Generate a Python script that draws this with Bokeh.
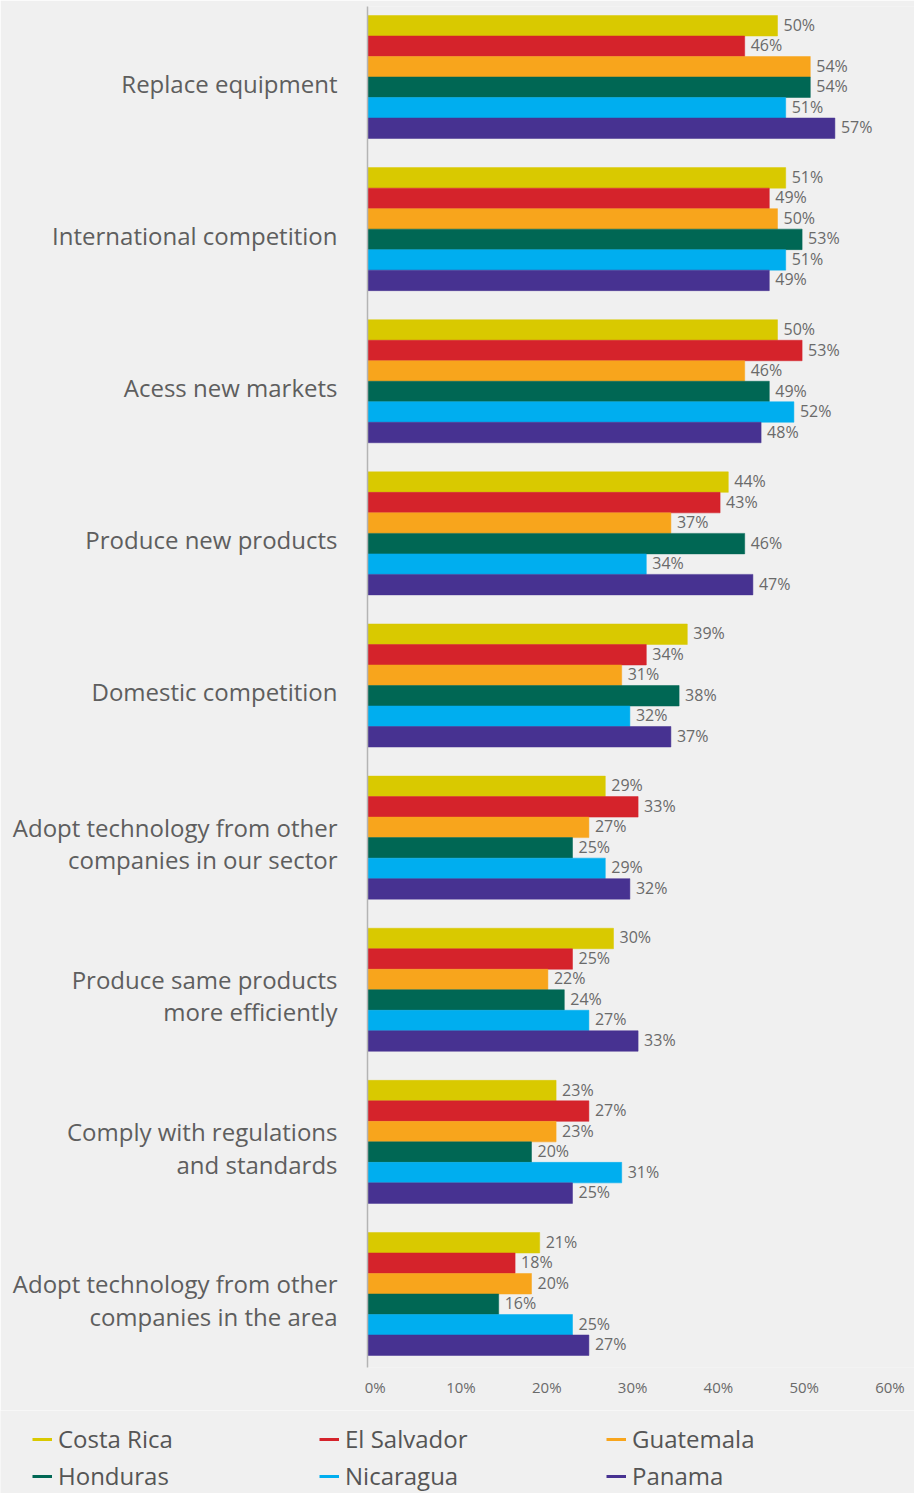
from bokeh.plotting import figure
from bokeh.models import (Range1d, LinearAxis, FixedTicker, ColumnDataSource, Legend,
                          LegendItem, PrintfTickFormatter)
from bokeh.transform import dodge
from bokeh.core.properties import value
from bokeh.embed import file_html
from bokeh.resources import INLINE

# ---------------- data ----------------
categories = [
    "Replace equipment",
    "International competition",
    "Acess new markets",
    "Produce new products",
    "Domestic competition",
    "Adopt technology from other\ncompanies in our sector",
    "Produce same products\nmore efficiently",
    "Comply with regulations\nand standards",
    "Adopt technology from other\ncompanies in the area",
]
countries = ["Costa Rica", "El Salvador", "Guatemala", "Honduras", "Nicaragua", "Panama"]

costa_rica = [50, 51, 50, 44, 39, 29, 30, 23, 21]
el_salvador = [46, 49, 53, 43, 34, 33, 25, 27, 18]
guatemala = [54, 50, 46, 37, 31, 27, 22, 23, 20]
honduras = [54, 53, 49, 46, 38, 25, 24, 20, 16]
nicaragua = [51, 51, 52, 34, 32, 29, 27, 31, 25]
panama = [57, 49, 48, 47, 37, 32, 33, 25, 27]

x_ticks = [0, 10, 20, 30, 40, 50, 60]

# ---------------- styles ----------------
series = [costa_rica, el_salvador, guatemala, honduras, nicaragua, panama]
colors = ["#d9c900", "#d5232b", "#f8a51c", "#006754", "#00aeef", "#473291"]
BG = "#f0f0f0"
TXT = "#5e5e5e"
FONT = "Open Sans"

n = len(categories)
ypos = [n - 1 - i for i in range(n)]   # top category at top

W = 914
H_MAIN, H_LEG = 1410, 83
FRAME_BOTTOM = 1367
px_per_unit = 152.1
bar_h = 20.5 / px_per_unit
y0, y1 = -73.5 / px_per_unit, n - 1 + 70.5 / px_per_unit

p = figure(width=W, height=H_MAIN, output_backend="svg", toolbar_location=None,
           x_range=Range1d(0, (W - 367) / 8.2), y_range=Range1d(y0, y1),
           x_axis_location=None, y_axis_location=None,
           min_border_left=367, min_border_right=0, min_border_top=6,
           min_border_bottom=H_MAIN - FRAME_BOTTOM)
p.background_fill_color = BG
p.border_fill_color = BG
p.outline_line_color = None
p.xgrid.visible = False
p.ygrid.visible = False

# extra ranges for the axes
d = 6 / px_per_unit
p.extra_y_ranges = {"lab": Range1d(y0 + d, y1 + d)}
p.extra_x_ranges = {"ax": Range1d((367 - 374.7) / 8.58, (W - 374.7) / 8.58)}

sources = []
for j, (name, vals, col) in enumerate(zip(countries, series, colors)):
    src = ColumnDataSource(dict(y=ypos, x=vals, label=[f"{v}%" for v in vals]))
    sources.append(src)
    off = (2.5 - j) * bar_h
    p.hbar(y=dodge("y", off, range=p.y_range), left=0, right="x", height=bar_h,
           source=src, fill_color=col, line_color=col, line_width=0.5)
    p.text(x="x", y=dodge("y", off, range=p.y_range), text="label", source=src,
           x_offset=6, y_offset=-1, text_align="left", text_baseline="middle",
           text_font=value(FONT), text_font_size="16px", text_color="#6a6a6a")

# y axis with category labels
yax = LinearAxis(y_range_name="lab", ticker=FixedTicker(ticks=ypos),
                 major_label_overrides={y: c for y, c in zip(ypos, categories)})
yax.axis_line_color = "#b4b4b4"
yax.axis_line_width = 1.5
yax.major_tick_line_color = None
yax.minor_tick_line_color = None
yax.major_tick_out = 0
yax.major_tick_in = 0
yax.major_label_standoff = 30
yax.major_label_text_font = FONT
yax.major_label_text_font_size = "24px"
yax.major_label_text_color = TXT
yax.major_label_text_line_height = 0.98
p.add_layout(yax, "left")

# x axis
xax = LinearAxis(x_range_name="ax", ticker=FixedTicker(ticks=x_ticks),
                 formatter=PrintfTickFormatter(format="%d%%"))
xax.axis_line_color = None
xax.major_tick_line_color = None
xax.minor_tick_line_color = None
xax.major_tick_out = 0
xax.major_tick_in = 0
xax.major_label_standoff = 9
xax.major_label_text_font = FONT
xax.major_label_text_font_size = "15px"
xax.major_label_text_color = "#6a6a6a"
p.add_layout(xax, "below")

# ---------------- legend figure ----------------
q = figure(width=W, height=H_LEG, output_backend="svg", toolbar_location=None,
           x_range=Range1d(0, 1), y_range=Range1d(-1, 0),
           x_axis_location=None, y_axis_location=None,
           min_border_left=0, min_border_right=0, min_border_top=0, min_border_bottom=0)
q.background_fill_color = BG
q.border_fill_color = BG
q.outline_line_color = None
q.xgrid.visible = False
q.ygrid.visible = False

# legend keys: each series as zero-length segments lying outside this frame;
# only their legend glyphs are seen
proxies = [q.segment(x0="x", y0="y", x1="x", y1="y", source=s,
                     line_color=c, line_width=3)
           for s, c in zip(sources, colors)]


def make_legend(idx, loc):
    lg = Legend(items=[LegendItem(label=countries[k], renderers=[proxies[k]]) for k in idx],
                orientation="horizontal", location=loc,
                glyph_width=20, glyph_height=26, label_height=26, label_standoff=6,
                label_width=250, spacing=11, padding=0, margin=0,
                border_line_color=None, background_fill_alpha=0,
                label_text_font=FONT, label_text_font_size="24px",
                label_text_color="#555555")
    q.add_layout(lg)
    return lg


make_legend([0, 1, 2], (32, 38))
make_legend([3, 4, 5], (32, 1))

html = file_html([p, q], INLINE)
html = html.replace("<body>", '<body style="background-color:#f0f0f0;">', 1)
open("out.html", "w").write(html)
